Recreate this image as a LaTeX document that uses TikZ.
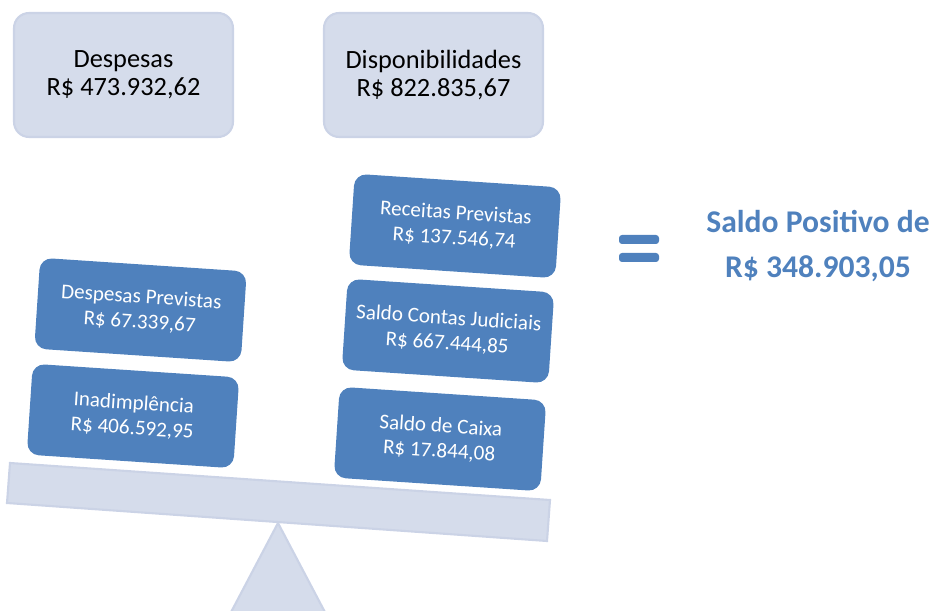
\documentclass[tikz,border=0pt]{standalone}
\usepackage{fontspec}
\setmainfont{Carlito}
\usepackage{tikz}
\usepackage{xcolor}
\usetikzlibrary{calc}

\definecolor{azul}{HTML}{4F81BD}
\definecolor{claro}{HTML}{D5DCEB}
\definecolor{borda}{HTML}{CBD3E6}

\begin{document}
\begin{tikzpicture}[x=0.02cm, y=-0.02cm,
    topo/.style={draw=borda, line width=1.2pt, fill=claro, rounded corners=0.3cm,
      minimum width=4.38cm, minimum height=2.48cm, inner sep=0pt, align=center,
      font=\fontsize{15}{16}\selectfont},
    peso/.style={fill=azul, rounded corners=0.24cm, text=white, rotate=-3.8,
      minimum width=4.14cm, minimum height=1.82cm, inner sep=0pt, align=center,
      font=\fontsize{12}{14.2}\selectfont},
    barra/.style={fill=azul, rounded corners=0.06cm},
    base/.style={draw=borda, line width=1.2pt, fill=claro}]
      \useasboundingbox (0, 0) rectangle (937, 611);

      % topo
      \node[topo] (desp) at (123.5, 75) {Despesas\\R\$ 473.932,62};
      \node[topo] (disp) at (433.5, 75) {Disponibilidades\\R\$ 822.835,67};

      % balanca
      \coordinate (T0) at (278, 523);
      \coordinate (T1) at (327, 616);
      \coordinate (T2) at (229, 616);
      \draw[base] (T0) -- (T1) -- (T2) -- cycle;

      \coordinate (B0) at (10, 463);
      \coordinate (B1) at (550, 500);
      \coordinate (B2) at (547, 541);
      \coordinate (B3) at (7, 503);
      \draw[base] (B0) -- (B1) -- (B2) -- (B3) -- cycle;

      % lado esquerdo
      \node[peso] (prev) at (140.5, 310) {Despesas Previstas\\R\$ 67.339,67};
      \node[peso] (inad) at (133, 416) {Inadimplência\\R\$ 406.592,95};

      % lado direito
      \node[peso] (rec) at (455, 226) {Receitas Previstas\\R\$ 137.546,74};
      \node[peso] (jud) at (448, 331) {Saldo Contas Judiciais\\R\$ 667.444,85};
      \node[peso] (cx) at (440, 439) {Saldo de Caixa\\R\$ 17.844,08};

      % resultado
      \foreach \y in {235, 253} {
          \fill[barra] (619, \y) rectangle (659, \y+9);
      }
      \node[text=azul, align=center, font=\fontsize{18}{25.5}\selectfont\bfseries] (saldo)
          at (818, 246) {Saldo Positivo de\\R\$ 348.903,05};
    \end{tikzpicture}
\end{document}
